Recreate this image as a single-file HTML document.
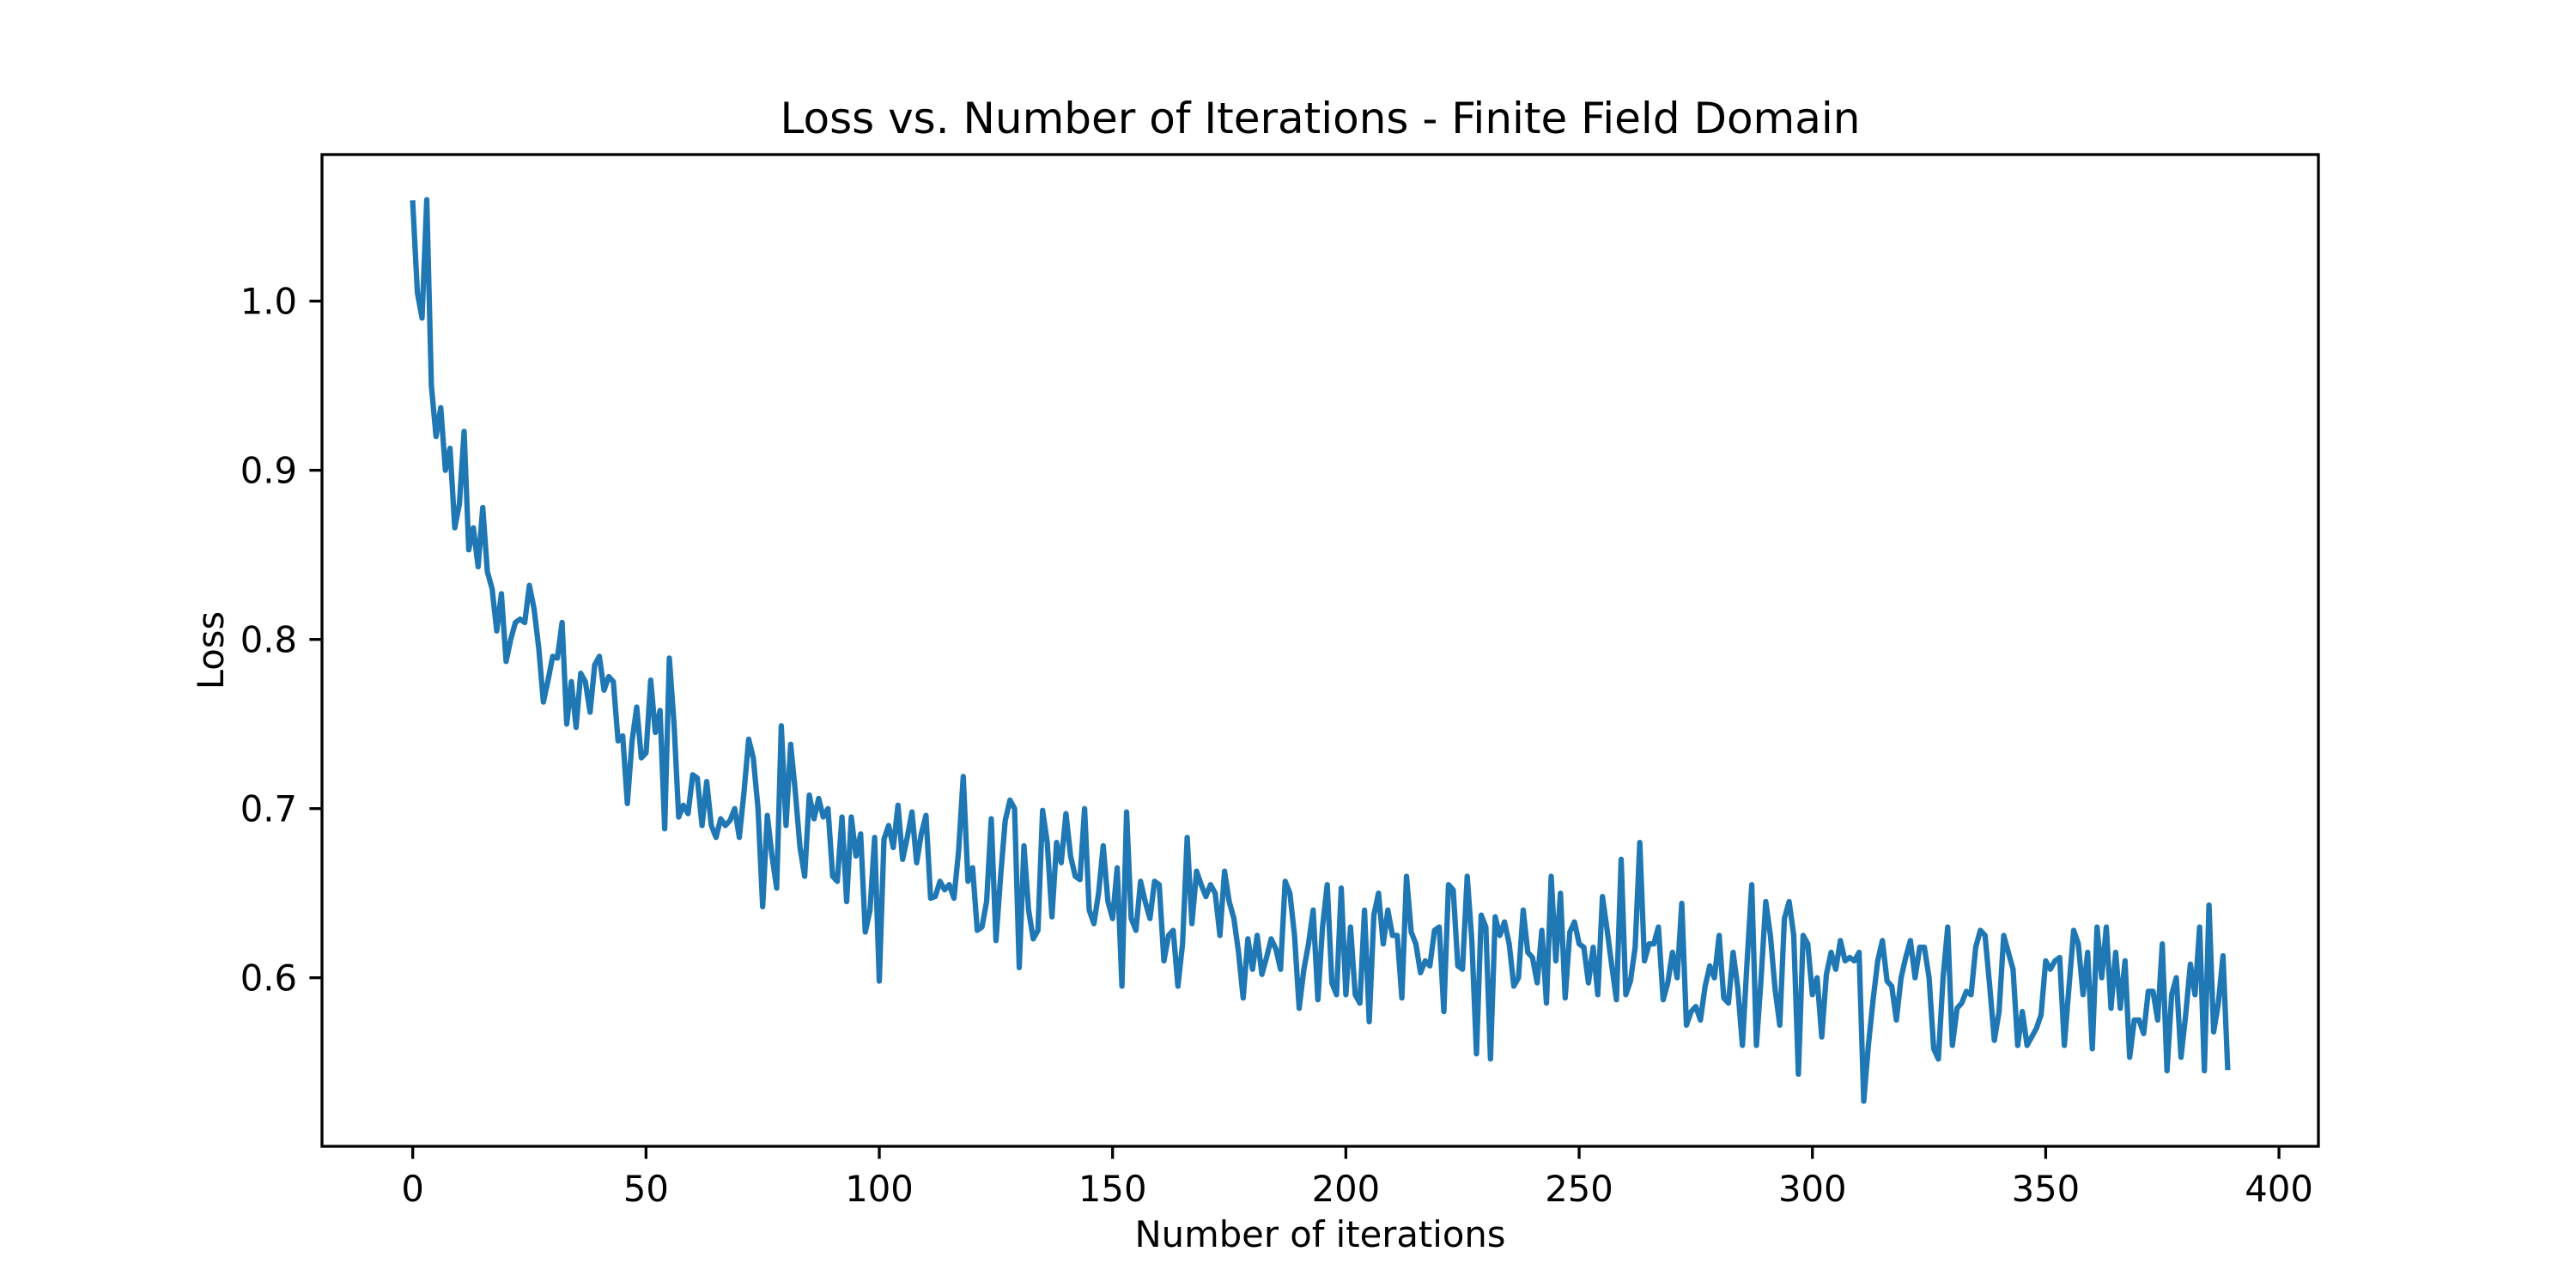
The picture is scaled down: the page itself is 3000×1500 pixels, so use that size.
<!DOCTYPE html>
<html><head><meta charset="utf-8"><style>
html,body{margin:0;padding:0;background:#fff;}
svg{display:block;font-family:"DejaVu Sans","Liberation Sans",sans-serif;}
</style></head><body>
<svg id="chart" width="3000" height="1500" viewBox="0 0 3000 1500" xmlns="http://www.w3.org/2000/svg">
<rect width="3000" height="1500" fill="#fff"/>
<text x="1537.5" y="155" font-size="50" text-anchor="middle" fill="#000">Loss vs. Number of Iterations - Finite Field Domain</text>
<text x="1537.5" y="1452" font-size="41.7" text-anchor="middle" fill="#000">Number of iterations</text>
<text x="0" y="0" font-size="41.7" text-anchor="middle" fill="#000" transform="translate(260,757.5) rotate(-90)">Loss</text>
<g id="xticks"></g>
<g id="yticks"></g>
<g id="plot"></g>
<rect x="375" y="180" width="2325" height="1155" fill="none" stroke="#000" stroke-width="3.3"/>
</svg>
<script>
const xTickValues = [0, 50, 100, 150, 200, 250, 300, 350, 400];
const xTickLabels = ["0","50","100","150","200","250","300","350","400"];
const yTickValues = [0.6, 0.7, 0.8, 0.9, 1.0];
const yTickLabels = ["0.6","0.7","0.8","0.9","1.0"];
const lossValues = [
1.058,1.005,0.99,1.06,0.95,0.92,0.937,0.90,0.913,0.866,
0.88,0.923,0.853,0.866,0.843,0.878,0.84,0.83,0.805,0.827,
0.787,0.80,0.81,0.812,0.81,0.832,0.818,0.795,0.763,0.776,
0.79,0.789,0.81,0.75,0.775,0.748,0.78,0.775,0.757,0.785,
0.79,0.77,0.778,0.775,0.74,0.743,0.703,0.74,0.76,0.73,
0.733,0.776,0.745,0.758,0.688,0.789,0.75,0.695,0.702,0.697,
0.72,0.718,0.69,0.716,0.69,0.683,0.694,0.69,0.693,0.70,
0.683,0.71,0.741,0.73,0.70,0.642,0.696,0.672,0.653,0.749,
0.69,0.738,0.71,0.677,0.66,0.708,0.694,0.706,0.695,0.70,
0.66,0.657,0.695,0.645,0.695,0.672,0.685,0.627,0.64,0.683,
0.598,0.682,0.69,0.677,0.702,0.67,0.683,0.698,0.668,0.685,
0.696,0.647,0.648,0.657,0.652,0.655,0.647,0.675,0.719,0.657,
0.665,0.628,0.63,0.645,0.694,0.622,0.66,0.693,0.705,0.70,
0.606,0.678,0.64,0.623,0.628,0.699,0.68,0.636,0.68,0.668,
0.697,0.672,0.66,0.658,0.70,0.64,0.632,0.65,0.678,0.645,
0.635,0.665,0.595,0.698,0.635,0.628,0.657,0.645,0.635,0.657,
0.655,0.61,0.625,0.628,0.595,0.62,0.683,0.632,0.663,0.655,
0.648,0.655,0.65,0.625,0.663,0.645,0.635,0.615,0.588,0.623,
0.605,0.625,0.602,0.612,0.623,0.617,0.605,0.657,0.65,0.625,
0.582,0.605,0.62,0.64,0.587,0.63,0.655,0.597,0.59,0.653,
0.59,0.63,0.59,0.585,0.64,0.574,0.637,0.65,0.62,0.64,
0.625,0.625,0.588,0.66,0.627,0.62,0.603,0.61,0.607,0.628,
0.63,0.58,0.655,0.652,0.607,0.605,0.66,0.622,0.555,0.637,
0.63,0.552,0.636,0.625,0.633,0.62,0.595,0.6,0.64,0.615,
0.612,0.597,0.628,0.585,0.66,0.61,0.65,0.588,0.627,0.633,
0.62,0.618,0.597,0.618,0.59,0.648,0.628,0.607,0.587,0.67,
0.59,0.598,0.618,0.68,0.61,0.62,0.62,0.63,0.587,0.597,
0.615,0.6,0.644,0.572,0.58,0.583,0.575,0.595,0.607,0.6,
0.625,0.588,0.585,0.615,0.594,0.56,0.61,0.655,0.56,0.6,
0.645,0.625,0.593,0.572,0.635,0.645,0.625,0.543,0.625,0.62,
0.59,0.6,0.565,0.602,0.615,0.605,0.622,0.61,0.612,0.61,
0.615,0.527,0.56,0.587,0.61,0.622,0.598,0.595,0.575,0.6,
0.612,0.622,0.6,0.618,0.618,0.6,0.558,0.552,0.6,0.63,
0.56,0.582,0.585,0.592,0.59,0.618,0.628,0.625,0.595,0.563,
0.58,0.625,0.615,0.605,0.56,0.58,0.56,0.565,0.57,0.578,
0.61,0.605,0.61,0.612,0.56,0.595,0.628,0.62,0.59,0.615,
0.558,0.63,0.6,0.63,0.582,0.615,0.582,0.61,0.553,0.575,
0.575,0.567,0.592,0.592,0.575,0.62,0.545,0.59,0.6,0.553,
0.578,0.608,0.59,0.63,0.545,0.643,0.568,0.585,0.613,0.547
];
const NS = "http://www.w3.org/2000/svg";
const L = 375, R = 2700, T = 180, B = 1335;
const n = lossValues.length;
const xMin = 0, xMax = n - 1, xPad = (xMax - xMin) * 0.05;
const yMin = Math.min(...lossValues), yMax = Math.max(...lossValues), yPad = (yMax - yMin) * 0.05;
function xScale(v){ return L + (v - (xMin - xPad)) / ((xMax + xPad) - (xMin - xPad)) * (R - L); }
function yScale(v){ return B - (v - (yMin - yPad)) / ((yMax + yPad) - (yMin - yPad)) * (B - T); }

const xg = document.getElementById('xticks');
xTickValues.forEach((v, i) => {
  const x = xScale(v);
  const t = document.createElementNS(NS, 'line');
  t.setAttribute('x1', x); t.setAttribute('x2', x); t.setAttribute('y1', B); t.setAttribute('y2', B + 14.6);
  t.setAttribute('stroke', '#000'); t.setAttribute('stroke-width', '3.3');
  
  
  xg.appendChild(t);
  const lb = document.createElementNS(NS, 'text');
  lb.setAttribute('x', x); lb.setAttribute('y', B + 64); lb.setAttribute('font-size', '41.7'); lb.setAttribute('text-anchor', 'middle');
  lb.textContent = xTickLabels[i];
  
  
  xg.appendChild(lb);
});
const yg = document.getElementById('yticks');
yTickValues.forEach((v, i) => {
  const y = yScale(v);
  const t = document.createElementNS(NS, 'line');
  t.setAttribute('x1', L - 14.6); t.setAttribute('x2', L); t.setAttribute('y1', y); t.setAttribute('y2', y);
  t.setAttribute('stroke', '#000'); t.setAttribute('stroke-width', '3.3');
  
  
  yg.appendChild(t);
  const lb = document.createElementNS(NS, 'text');
  lb.setAttribute('x', L - 29); lb.setAttribute('y', y + 15); lb.setAttribute('font-size', '41.7'); lb.setAttribute('text-anchor', 'end');
  lb.textContent = yTickLabels[i];
  
  
  yg.appendChild(lb);
});
const pts = lossValues.map((v, i) => xScale(i).toFixed(1) + ',' + yScale(v).toFixed(1)).join(' ');
const line = document.createElementNS(NS, 'polyline');
line.setAttribute('points', pts);
line.setAttribute('fill', 'none');
line.setAttribute('stroke', '#1f77b4');
line.setAttribute('stroke-width', '6.25');
line.setAttribute('stroke-linejoin', 'round');
line.setAttribute('stroke-linecap', 'square');


document.getElementById('plot').appendChild(line);
</script>
</body></html>
